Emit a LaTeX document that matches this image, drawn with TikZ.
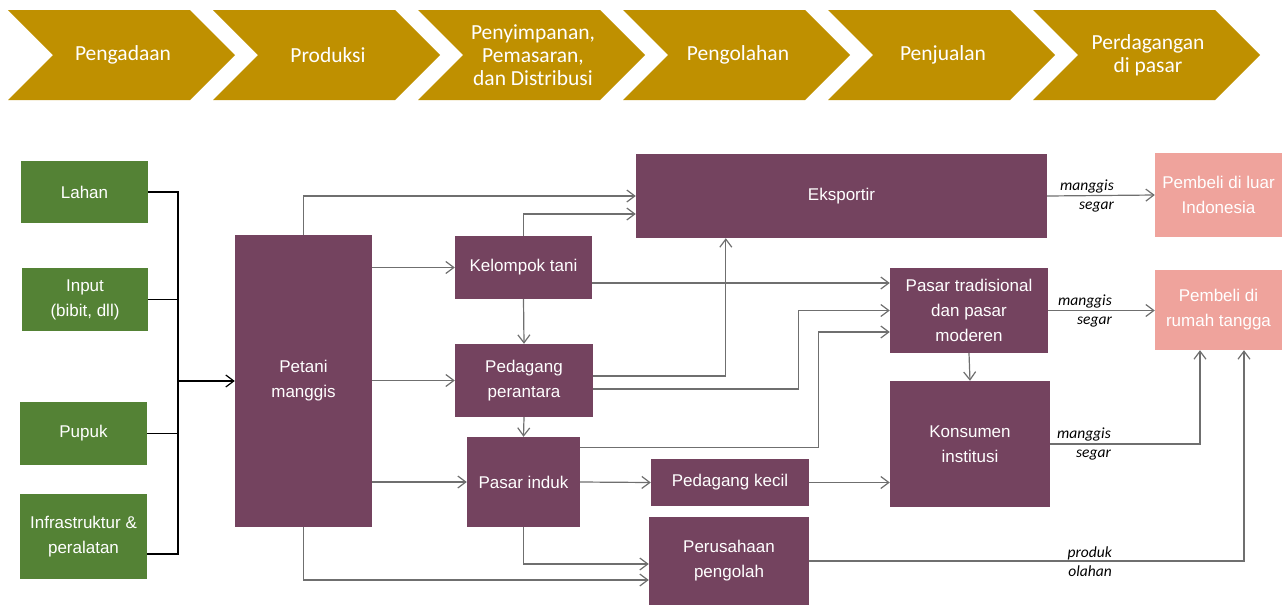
\documentclass[tikz,border=0pt]{standalone}
\usepackage{fontspec}
\setmainfont{Liberation Sans}
\newfontfamily\calibri{Carlito}
\usetikzlibrary{arrows.meta,calc}
\definecolor{stagegold}{HTML}{BF9000}
\definecolor{inputgreen}{HTML}{548235}
\definecolor{actorplum}{HTML}{74435F}
\definecolor{buyerpink}{HTML}{EFA39C}
\definecolor{flowgray}{HTML}{6F6F6F}

\begin{document}
\begin{tikzpicture}[
  x=1pt, y=-1pt,
  font=\fontsize{17}{25}\selectfont,
  box/.style={inner sep=0pt, align=center, text=white},
  inbox/.style={box, fill=inputgreen},
  actor/.style={box, fill=actorplum},
  buyer/.style={box, fill=buyerpink},
  flow/.style={-{Straight Barb[length=8pt,width=12pt]}, line width=1.2pt, draw=flowgray},
  busline/.style={line width=1.2pt, draw=black},
  flowlabel/.style={anchor=east, align=right, inner sep=0pt,
    font=\calibri\itshape\fontsize{15.5}{19}\selectfont},
  stagetext/.style={text=white, align=center, font=\calibri\fontsize{21.5}{23}\selectfont},
]
  \useasboundingbox (0,0) rectangle (1282,606);

  % value chain stages
  \foreach \i/\stage in {0/Pengadaan, 1/Produksi, 2/{Penyimpanan,\\Pemasaran,\\dan Distribusi},
      3/Pengolahan, 4/Penjualan, 5/{Perdagangan\\di pasar}} {
    \pgfmathsetmacro{\sx}{8+205*\i}
    \fill[stagegold] (\sx,10) -- ++(182,0) -- ++(45,45) -- ++(-45,45) -- ++(-182,0) -- ++(45,-45) -- cycle;
    \node[stagetext] (stage\i) at (\sx+115,55) {\stage};
  }

  % inputs
  \node[inbox, minimum width=127pt, minimum height=62pt] (lahan) at (84.5,192) {Lahan};
  \node[inbox, minimum width=126pt, minimum height=63pt] (input) at (85,299.5) {Input\\(bibit, dll)};
  \node[inbox, minimum width=127pt, minimum height=63pt] (pupuk) at (83.5,433.5) {Pupuk};
  \node[inbox, minimum width=127pt, minimum height=85pt] (infra) at (83.5,536.5) {Infrastruktur \&\\peralatan};

  % actors
  \node[actor, minimum width=137pt, minimum height=292pt] (petani) at (303.5,381) {Petani\\manggis};
  \node[actor, minimum width=137pt, minimum height=63pt] (kelompok) at (523.5,267.5) {Kelompok tani};
  \node[actor, minimum width=138pt, minimum height=73pt] (perantara) at (524,380.5) {Pedagang\\perantara};
  \node[actor, minimum width=113pt, minimum height=90pt] (induk) at (523.5,482) {Pasar induk};
  \node[actor, minimum width=158pt, minimum height=47pt] (kecil) at (730,482.5) {Pedagang kecil};
  \node[actor, minimum width=160pt, minimum height=88pt] (pengolah) at (729,561) {Perusahaan\\pengolah};
  \node[actor, minimum width=411pt, minimum height=84pt] (eksportir) at (841.5,196) {Eksportir};
  \node[actor, minimum width=158pt, minimum height=85pt] (pasartrad) at (969,310.5) {Pasar tradisional\\dan pasar\\moderen};
  \node[actor, minimum width=160pt, minimum height=126pt] (konsumen) at (970,444) {Konsumen\\institusi};

  % buyers
  \node[buyer, minimum width=127pt, minimum height=84pt] (luar) at (1218.5,195) {Pembeli di luar\\Indonesia};
  \node[buyer, minimum width=127pt, minimum height=80pt] (rumah) at (1218.5,310) {Pembeli di\\rumah tangga};

  % inputs onto the bus
  \coordinate (bus) at (178,381);
  \coordinate (infraout) at ($(infra.east)+(0,17.5)$);
  \draw[busline] (lahan.east) -| (bus |- infraout) -- (infraout);
  \draw[busline] (input.east) -- (input.east -| bus);
  \draw[busline] (pupuk.east) -- (pupuk.east -| bus);
  \draw[busline, -{Straight Barb[length=8pt,width=12pt]}] (bus) -- (petani.west);

  % from the farmers
  \draw[flow] (petani.north) |- (eksportir.west);
  \draw[flow] (petani.east |- kelompok.west) -- (kelompok.west);
  \draw[flow] (petani.east |- perantara.west) -- (perantara.west);
  \draw[flow] (petani.east |- induk.west) -- (induk.west);
  \draw[flow] (petani.south) |- ($(pengolah.west)+(0,19)$);

  % traders
  \coordinate (kelompokout) at ($(kelompok.east)+(0,15.5)$);
  \draw[flow] (kelompok.north) |- ($(eksportir.west)+(0,18)$);
  \draw[flow] (kelompok.south) -- (perantara.north);
  \draw[flow] (kelompokout) -- (kelompokout -| pasartrad.west);
  \draw[flow] ($(perantara.east)+(0,-4.5)$) -| ([xshift=90pt]eksportir.south west);
  \draw[flow] ($(perantara.east)+(0,8.5)$) -- ++(205,0) |- (pasartrad.west);
  \draw[flow] (perantara.south) -- (induk.north);
  \draw[flow] ($(induk.north east)+(0,11)$) -- ++(238,0) |- ($(pasartrad.west)+(0,21.5)$);
  \draw[flow] (induk.east) -- (kecil.west);
  \draw[flow] (kecil.east) -- (kecil.east -| konsumen.west);
  \draw[flow] (induk.south) |- ($(pengolah.west)+(0,3)$);

  % to the buyers
  \draw[flow] (eksportir.east) -- (luar.west);
  \draw[flow] (pasartrad.east) -- (pasartrad.east -| rumah.west);
  \draw[flow] (pasartrad.south) -- (konsumen.north);
  \draw[flow] (konsumen.east) -| ([xshift=-18.5pt]rumah.south);
  \draw[flow] (pengolah.east) -| ([xshift=25.5pt]rumah.south);

  \node[flowlabel] (lblekspor) at (1114,196) {manggis\\segar};
  \node[flowlabel] (lblpasar) at (1112,311) {manggis\\segar};
  \node[flowlabel] (lblinstitusi) at (1111,443.5) {manggis\\segar};
  \node[flowlabel] (lblolahan) at (1112,562) {produk\\olahan};
\end{tikzpicture}
\end{document}
